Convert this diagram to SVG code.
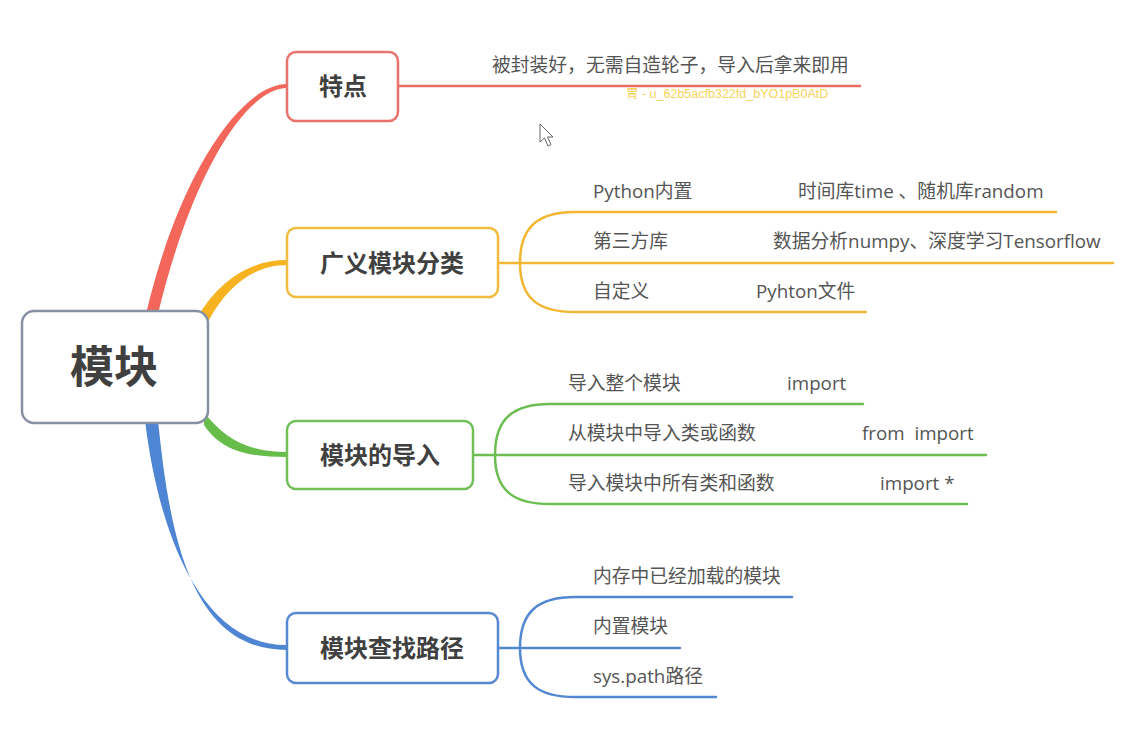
<svg xmlns="http://www.w3.org/2000/svg" width="1123" height="754" viewBox="0 0 1123 754">
<style>
.node{fill:#fff;stroke-width:2.5}
.t1{font-family:"Noto Sans CJK SC","Noto Sans",sans-serif;font-weight:bold;fill:#404040;text-anchor:middle}
.t2{font-family:"Open Sans","Noto Sans CJK SC",sans-serif;font-size:18.8px;fill:#555}
.br{fill:none;stroke-width:2.5;stroke-linecap:round}
.red{stroke:#ec6c63}.org{stroke:#f2b631}.grn{stroke:#6cbd52}.blu{stroke:#5287d1}
</style>
<rect width="1123" height="754" fill="#fff"/>
<g id="connectors">
<path d="M146,314 C180,170 243,84 287,84 L287,88 C247,88 192,172 158,314 Z" fill="#f2675a"/>
<path d="M198,316 C220,280 250,260 287,260 L287,265 C255,265 228,285 209,320 Z" fill="#f6b21f"/>
<path d="M204,412 C225,440 250,452 287,452 L287,457 C250,457 222,452 204,425 Z" fill="#67bd4a"/>
<path d="M145,420 C158,530 200,646 287,645 L287,650 C192,650 170,540 158,420 Z" fill="#4f86d4"/>
<path class="br red" d="M398,86 L860,86"/>
<path class="br org" d="M498,263 L1113,263"/>
<path class="br org" d="M520,263 C520,225 540,212 575,212 L1056,212"/>
<path class="br org" d="M520,263 C520,300 540,312 575,312 L866,312"/>
<path class="br grn" d="M473,455 L986,455"/>
<path class="br grn" d="M495,455 C495,417 515,404 550,404 L863,404"/>
<path class="br grn" d="M495,455 C495,492 515,504 550,504 L967,504"/>
<path class="br blu" d="M498,648 L680,648"/>
<path class="br blu" d="M520,648 C520,610 540,597 575,597 L792,597"/>
<path class="br blu" d="M520,648 C520,685 540,697 575,697 L716,697"/>
</g>
<g id="root">
<rect class="node" x="22" y="311" width="186" height="112" rx="12" stroke="#8790a4" stroke-width="3"/>
<text class="t1" x="114" y="383" font-size="44">模块</text>
</g>
<g id="n-tedian">
<rect class="node" x="287" y="52" width="111" height="69" rx="9" stroke="#e8736c"/>
<text class="t1" x="343" y="95" font-size="24">特点</text>
</g>
<g id="n-tedian-1"><text class="t2" x="492" y="72">被封装好，无需自造轮子，导入后拿来即用</text></g>
<g id="n-fenlei">
<rect class="node" x="287" y="228" width="211" height="69" rx="9" stroke="#f1bc3e"/>
<text class="t1" x="392" y="272" font-size="24">广义模块分类</text>
</g>
<g id="n-fenlei-1"><text class="t2" x="593" y="198">Python内置</text><text class="t2" x="798" y="198">时间库time 、随机库random</text></g>
<g id="n-fenlei-2"><text class="t2" x="593" y="248">第三方库</text><text class="t2" x="773" y="248">数据分析numpy、深度学习Tensorflow</text></g>
<g id="n-fenlei-3"><text class="t2" x="593" y="298">自定义</text><text class="t2" x="756" y="298">Pyhton文件</text></g>
<g id="n-daoru">
<rect class="node" x="287" y="421" width="186" height="68" rx="9" stroke="#72bf59"/>
<text class="t1" x="380" y="464" font-size="24">模块的导入</text>
</g>
<g id="n-daoru-1"><text class="t2" x="568" y="390">导入整个模块</text><text class="t2" x="787" y="390">import</text></g>
<g id="n-daoru-2"><text class="t2" x="568" y="440">从模块中导入类或函数</text><text class="t2" x="862" y="440" xml:space="preserve">from  import</text></g>
<g id="n-daoru-3"><text class="t2" x="568" y="490">导入模块中所有类和函数</text><text class="t2" x="880" y="490">import *</text></g>
<g id="n-lujing">
<rect class="node" x="287" y="613" width="211" height="70" rx="9" stroke="#5888d0"/>
<text class="t1" x="392" y="657" font-size="24">模块查找路径</text>
</g>
<g id="n-lujing-1"><text class="t2" x="593" y="583">内存中已经加载的模块</text></g>
<g id="n-lujing-2"><text class="t2" x="593" y="633">内置模块</text></g>
<g id="n-lujing-3"><text class="t2" x="593" y="683">sys.path路径</text></g>
<text x="626" y="98" font-family="'Liberation Sans','Noto Sans CJK SC',sans-serif" font-size="12.5" fill="#f6d35c">胃 - u_62b5acfb322fd_bYO1pB0AtD</text>
<path d="M540,124 L540,142 L544.5,138 L548,146 L551,144.5 L547.5,137 L553,137 Z" fill="#fff" stroke="#666" stroke-width="1"/>
</svg>
